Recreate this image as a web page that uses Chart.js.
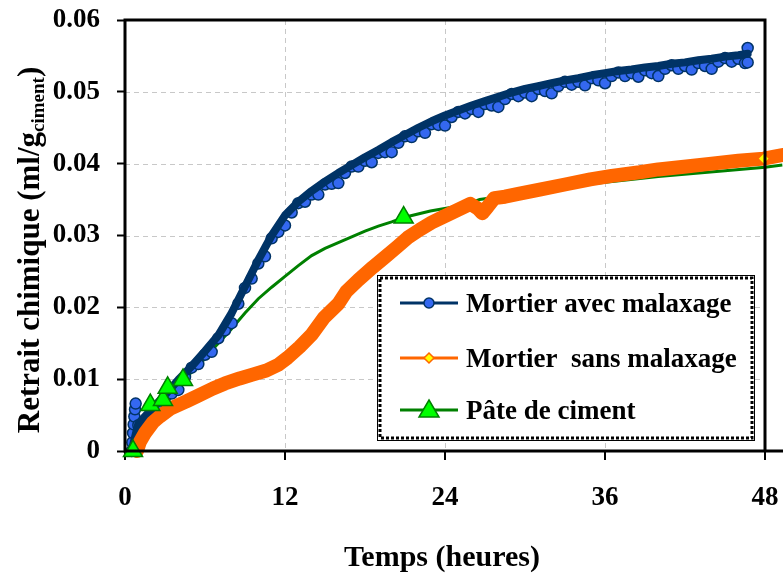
<!DOCTYPE html>
<html>
<head>
<meta charset="utf-8">
<script src="https://cdn.jsdelivr.net/npm/chart.js@4.4.0/dist/chart.umd.min.js"></script>
<style>
  html, body { margin: 0; padding: 0; background: #fff; }
</style>
</head>
<body>
<canvas id="retraitChart" width="783" height="575"></canvas>
<script>
// Values (hours, ml/g ciment)
const xTicks = [0, 12, 24, 36, 48];
const yTicks = [0, 0.01, 0.02, 0.03, 0.04, 0.05, 0.06];

// Mortier avec malaxage: centre of the dark band
const avecLineHours = [
  0.5, 1, 2, 3, 4, 5, 6, 7, 8, 9, 10, 11, 12, 13, 14, 15, 16, 17, 18, 19, 20,
  21, 22, 23, 24, 25, 26, 27, 28, 29, 30, 31, 32, 33, 34, 35, 36, 37, 38, 39,
  40, 41, 42, 43, 44, 45, 46, 46.7
];
const avecLineValues = [
  0, 0.0038, 0.0058, 0.0078, 0.0099, 0.0118, 0.0139, 0.0161, 0.0192, 0.0229, 0.0266, 0.0300, 0.0328, 0.0347, 0.0362, 0.0375, 0.0387, 0.0398, 0.0409, 0.0419, 0.0430,
  0.0440, 0.0450, 0.0459, 0.0467, 0.0474, 0.0481, 0.0487, 0.0493, 0.0499, 0.0504, 0.0508, 0.0512, 0.0516, 0.0519, 0.0523, 0.0526, 0.0529, 0.0531, 0.0534,
  0.0536, 0.0539, 0.0541, 0.0544, 0.0546, 0.0549, 0.0551, 0.0553
];
// Mortier avec malaxage: individual measurement circles
const avecHours = [
  0.5, 0.55, 0.6, 0.65, 0.7, 0.75, 0.8,
  1, 1.5, 2, 2.5, 3, 3.5, 4, 4.5,
  5, 5.5, 6, 6.5, 7, 7.5, 8, 8.5,
  9, 9.5, 10, 10.5, 11, 11.5, 12, 12.5,
  13, 13.5, 14, 14.5, 15, 15.5, 16, 16.5,
  17, 17.5, 18, 18.5, 19, 19.5, 20, 20.5,
  21, 21.5, 22, 22.5, 23, 23.5, 24, 24.5,
  25, 25.5, 26, 26.5, 27, 27.5, 28, 28.5,
  29, 29.5, 30, 30.5, 31, 31.5, 32, 32.5,
  33, 33.5, 34, 34.5, 35, 35.5, 36, 36.5,
  37, 37.5, 38, 38.5, 39, 39.5, 40, 40.5,
  41, 41.5, 42, 42.5, 43, 43.5, 44, 44.5,
  45, 45.5, 46, 46.5, 46.7, 46.7
];
const avecValues = [
  0, 0.0012, 0.0025, 0.0037, 0.0048, 0.0058, 0.0066,
  0.0036, 0.0040, 0.0053, 0.0056, 0.0074, 0.0080, 0.0085, 0.0103,
  0.0116, 0.0121, 0.0134, 0.0138, 0.0157, 0.0168, 0.0178, 0.0205,
  0.0227, 0.0240, 0.0261, 0.0271, 0.0296, 0.0305, 0.0314, 0.0332,
  0.0345, 0.0347, 0.0357, 0.0357, 0.0371, 0.0372, 0.0373, 0.0387,
  0.0396, 0.0396, 0.0404, 0.0402, 0.0415, 0.0416, 0.0416, 0.0429,
  0.0438, 0.0437, 0.0445, 0.0443, 0.0455, 0.0454, 0.0453, 0.0465,
  0.0472, 0.0470, 0.0476, 0.0472, 0.0483, 0.0481, 0.0479, 0.0490,
  0.0497, 0.0494, 0.0499, 0.0494, 0.0504, 0.0501, 0.0498, 0.0508,
  0.0514, 0.0510, 0.0514, 0.0509, 0.0519, 0.0516, 0.0512, 0.0522,
  0.0527, 0.0522, 0.0526, 0.0521, 0.0530, 0.0526, 0.0522, 0.0532,
  0.0537, 0.0532, 0.0536, 0.0531, 0.0540, 0.0536, 0.0532, 0.0542,
  0.0547, 0.0542, 0.0546, 0.0540, 0.0561, 0.0541
];

// Mortier sans malaxage
const sansHours = [
  0.9, 1.1, 1.5, 2.1, 2.6, 3.4, 4.6, 5.5, 6.6, 7.5, 8.6, 9.5, 10.6, 11.5, 12.2,
  13.1, 14, 14.9, 16, 16.6, 17.5, 18.6, 19.5, 20.4, 21.2, 22.1, 23, 24.1, 25,
  25.9, 26.5, 26.8, 27.2, 27.7, 28.5, 29.5, 31.1, 33, 34.9, 36.5, 38.6, 40,
  42.1, 44, 46, 47.9, 49.3
];
const sansValues = [
  0, 0.0012, 0.0025, 0.0040, 0.0048, 0.0059, 0.0069, 0.0077, 0.0087, 0.0094, 0.0101, 0.0106, 0.0112, 0.0120, 0.0130,
  0.0145, 0.0162, 0.0185, 0.0205, 0.0222, 0.0238, 0.0256, 0.0270, 0.0284, 0.0297, 0.0308, 0.0318, 0.0328, 0.0336,
  0.0344, 0.0337, 0.0331, 0.0340, 0.0352, 0.0354, 0.0358, 0.0364, 0.0371, 0.0378, 0.0383, 0.0388, 0.0392,
  0.0396, 0.0400, 0.0404, 0.0407, 0.0412
];
const sansMarkerHours = [47.9];

// Pâte de ciment
const pateHours = [
  0.6, 1.9, 2.85, 3.2, 4.35, 5.5, 6.5, 7.9, 9, 10, 11, 12, 13, 14, 15, 16, 17,
  18, 19, 20, 20.9, 22.9, 25.6, 26.6, 30.4, 35, 40, 45, 48, 49.3
];
const pateValues = [
  0, 0.0064, 0.0071, 0.0088, 0.0099, 0.0118, 0.0140, 0.0168, 0.0192, 0.0212, 0.0228, 0.0243, 0.0258, 0.0272, 0.0282, 0.0290, 0.0298,
  0.0306, 0.0313, 0.0319, 0.0325, 0.0334, 0.0343, 0.0350, 0.0360, 0.0372, 0.0382, 0.0390, 0.0395, 0.0398
];
const pateMarkerHours = [0.6, 1.9, 2.85, 3.2, 4.35, 20.9];

const seriesNames = ['Mortier avec malaxage', 'Mortier  sans malaxage', 'Pâte de ciment'];

const toPoints = (hours, values) => hours.map((h, i) => ({ x: h, y: values[i] }));
const pateMarks = toPoints(pateHours, pateValues).filter(p => pateMarkerHours.includes(p.x));

const NAVY = '#003366', BLUE = '#3468f0', ORANGE = '#ff6600', YELLOW = '#ffff00';
const GREEN = '#008000', LIME = '#00ff00';
const SERIF = '"Liberation Serif", "Times New Roman", serif';
const FRAME_RIGHT = 765;   // pixel where the 48 h border sits

// dashed grid, frame, x ticks, legend box and axis titles
const decorations = {
  id: 'decorations',
  beforeDatasetsDraw(chart) {
    const { ctx, chartArea: a, scales } = chart;
    const x48 = scales.x.getPixelForValue(48);
    ctx.save();
    ctx.strokeStyle = '#c8c8c8';
    ctx.lineWidth = 1;
    ctx.setLineDash([5, 4]);
    ctx.beginPath();
    xTicks.slice(1, -1).forEach(v => {
      const x = Math.round(scales.x.getPixelForValue(v)) + 0.5;
      ctx.moveTo(x, a.top); ctx.lineTo(x, a.bottom);
    });
    yTicks.slice(1, -1).forEach(v => {
      const y = Math.round(scales.y.getPixelForValue(v)) + 0.5;
      ctx.moveTo(a.left, y); ctx.lineTo(x48, y);
    });
    ctx.stroke();
    ctx.setLineDash([]);
    // x tick marks and labels below the axis
    ctx.strokeStyle = '#000';
    ctx.lineWidth = 2;
    ctx.beginPath();
    ctx.fillStyle = '#000';
    ctx.font = 'bold 27px ' + SERIF;
    ctx.textAlign = 'center';
    ctx.textBaseline = 'middle';
    xTicks.forEach(v => {
      const x = Math.round(scales.x.getPixelForValue(v));
      ctx.moveTo(x, a.bottom); ctx.lineTo(x, a.bottom + 9);
      ctx.fillText(String(v), x, 498);
    });
    ctx.stroke();
    ctx.restore();
  },
  afterDatasetsDraw(chart) {
    const { ctx, chartArea: a, scales } = chart;
    const x48 = scales.x.getPixelForValue(48);
    ctx.save();
    ctx.strokeStyle = '#000';
    ctx.lineWidth = 3;
    ctx.beginPath();
    ctx.moveTo(a.left, a.bottom); ctx.lineTo(chart.width, a.bottom);
    ctx.moveTo(a.left, a.bottom + 1.5); ctx.lineTo(a.left, a.top);
    ctx.lineTo(x48, a.top); ctx.lineTo(x48, a.bottom);
    ctx.stroke();

    // legend
    const lx = 377, ly = 275, lw = 378, lh = 166;
    ctx.fillStyle = '#fff';
    ctx.fillRect(lx, ly, lw, lh);
    ctx.lineWidth = 1;
    ctx.strokeRect(lx + 0.5, ly + 0.5, lw - 1, lh - 1);
    ctx.lineWidth = 3;
    ctx.setLineDash([3, 2]);
    ctx.strokeRect(lx + 3, ly + 3, lw - 6, lh - 6);
    ctx.setLineDash([]);

    const rows = [303, 358, 410];
    ctx.font = 'bold 27px ' + SERIF;
    ctx.textBaseline = 'alphabetic';
    rows.forEach((y, i) => {
      ctx.lineWidth = 3;
      ctx.strokeStyle = [NAVY, ORANGE, GREEN][i];
      ctx.beginPath(); ctx.moveTo(400, y); ctx.lineTo(458, y); ctx.stroke();
      ctx.lineWidth = 1.5;
      if (i === 0) {
        ctx.fillStyle = BLUE;
        ctx.beginPath(); ctx.arc(429, y, 5, 0, Math.PI * 2); ctx.fill(); ctx.stroke();
      } else if (i === 1) {
        ctx.fillStyle = YELLOW;
        ctx.beginPath();
        ctx.moveTo(429, y - 5); ctx.lineTo(434, y); ctx.lineTo(429, y + 5); ctx.lineTo(424, y);
        ctx.closePath(); ctx.fill(); ctx.stroke();
      } else {
        ctx.fillStyle = LIME;
        ctx.beginPath();
        ctx.moveTo(429, y - 10); ctx.lineTo(439, y + 7); ctx.lineTo(419, y + 7);
        ctx.closePath(); ctx.fill(); ctx.stroke();
      }
      ctx.fillStyle = '#000';
      ctx.textAlign = 'left';
      ctx.fillText(seriesNames[i], 466, y + 9);
    });
    ctx.restore();
  },
  afterDraw(chart) {
    const { ctx } = chart;
    ctx.save();
    ctx.fillStyle = '#000';
    // x title
    ctx.font = 'bold 30px ' + SERIF;
    ctx.textAlign = 'center';
    ctx.textBaseline = 'alphabetic';
    ctx.fillText('Temps (heures)', 442, 566);

    // y title with subscript
    const main = 'bold 31px ' + SERIF, sub = 'bold 19px ' + SERIF;
    const p1 = 'Retrait chimique (ml/g', p2 = 'ciment', p3 = ')';
    ctx.font = main; const w1 = ctx.measureText(p1).width, w3 = ctx.measureText(p3).width;
    ctx.font = sub; const w2 = ctx.measureText(p2).width;
    const total = w1 + w2 + w3;
    ctx.translate(39, 250);
    ctx.rotate(-Math.PI / 2);
    ctx.textAlign = 'left';
    let x0 = -total / 2;
    ctx.font = main; ctx.fillText(p1, x0, 0);
    ctx.font = sub; ctx.fillText(p2, x0 + w1, 5);
    ctx.font = main; ctx.fillText(p3, x0 + w1 + w2, 0);
    ctx.restore();
  }
};

const tickFont = { family: SERIF, size: 27, weight: 'bold' };

const ctx = document.getElementById('retraitChart').getContext('2d');
const retraitChart = new Chart(ctx, {
  type: 'scatter',
  data: {
    datasets: [{
      label: seriesNames[0],
      data: toPoints(avecLineHours, avecLineValues),
      showLine: true,
      borderColor: NAVY,
      borderWidth: 8,
      borderJoinStyle: 'round',
      borderCapStyle: 'round',
      pointRadius: 0,
      clip: false,
      order: 3
    }, {
      label: seriesNames[0] + ' (mesures)',
      data: toPoints(avecHours, avecValues),
      showLine: false,
      pointRadius: 5.5,
      pointBackgroundColor: BLUE,
      pointBorderColor: NAVY,
      pointBorderWidth: 1.5,
      clip: false,
      order: 4
    }, {
      label: seriesNames[1],
      data: toPoints(sansHours, sansValues),
      showLine: true,
      borderColor: ORANGE,
      borderWidth: 14,
      borderJoinStyle: 'round',
      borderCapStyle: 'round',
      pointStyle: 'rectRot',
      pointRadius: (c) => (c.raw && sansMarkerHours.includes(c.raw.x)) ? 6 : 0,
      pointBackgroundColor: YELLOW,
      pointBorderColor: ORANGE,
      pointBorderWidth: 1.5,
      clip: false,
      order: 2
    }, {
      label: seriesNames[2],
      data: toPoints(pateHours, pateValues),
      showLine: true,
      borderColor: GREEN,
      borderWidth: 3,
      pointRadius: 0,
      clip: false,
      order: 5
    }, {
      label: seriesNames[2] + ' (marqueurs)',
      data: pateMarks,
      showLine: false,
      pointStyle: 'triangle',
      pointRadius: 11,
      pointBackgroundColor: LIME,
      pointBorderColor: GREEN,
      pointBorderWidth: 1.5,
      clip: false,
      order: 1
    }]
  },
  options: {
    responsive: false,
    animation: false,
    devicePixelRatio: 1,
    layout: { padding: { top: 20, left: 0, right: 0, bottom: 0 } },
    plugins: { legend: { display: false }, tooltip: { enabled: false } },
    scales: {
      x: {
        type: 'linear',
        min: 0,
        max: 48,
        afterBuildTicks: (s) => { s.ticks = xTicks.map(v => ({ value: v })); },
        afterFit: (s) => { s.height = 124; s.paddingLeft = 0; s.paddingRight = 0; },
        ticks: { display: false },
        grid: { display: false },
        border: { display: false }
      },
      y: {
        min: 0,
        max: 0.06,
        afterBuildTicks: (s) => { s.ticks = yTicks.map(v => ({ value: v })); },
        afterFit: (s) => { s.width = 125; s.paddingTop = 0; s.paddingBottom = 0; },
        ticks: {
          color: '#000',
          font: tickFont,
          padding: 17,
          callback: (v) => v === 0 ? '0' : v.toFixed(2)
        },
        grid: { drawOnChartArea: false, tickLength: 8, tickColor: '#000', tickWidth: 2 },
        border: { display: false }
      }
    }
  },
  plugins: [decorations]
});

// stretch the hour axis so that 48 h lands on the frame's right border
const area = retraitChart.chartArea;
retraitChart.options.scales.x.max = 48 * (area.right - area.left) / (FRAME_RIGHT - area.left);
retraitChart.update();
</script>
</body>
</html>
